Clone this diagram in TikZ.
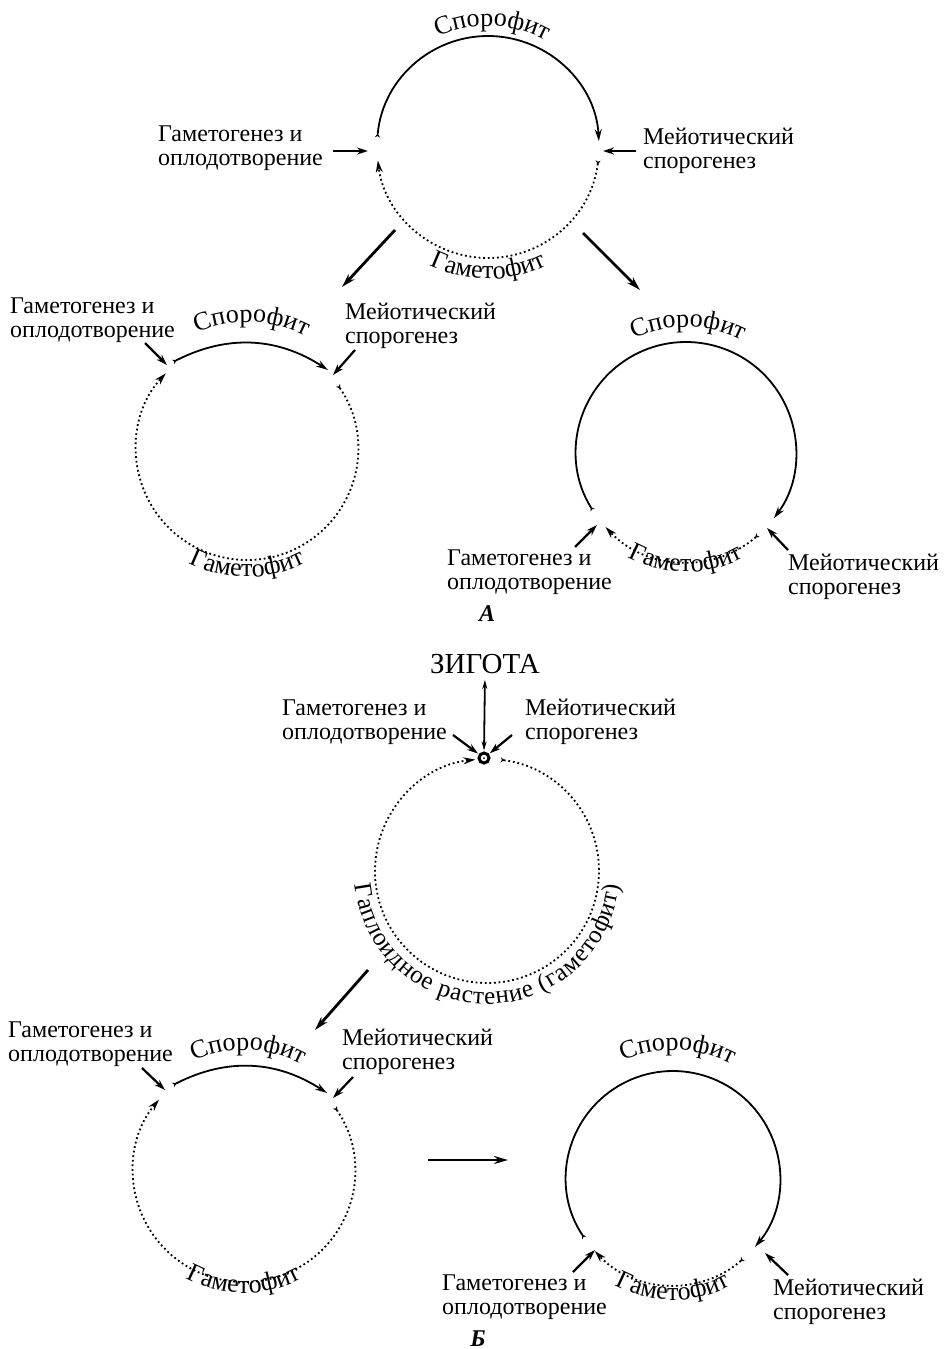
\documentclass[tikz,border=0pt]{standalone}
\usepackage{fontspec}
\setmainfont{Liberation Serif}
\usetikzlibrary{arrows.meta,decorations.text}

\tikzset{
  lbl/.style={align=left, anchor=west, inner sep=0pt, font=\fontsize{24}{24}\selectfont},
  solidarc/.style={line width=1.8pt, {Stealth[length=4pt,width=5pt,reversed]}-{Stealth[length=12pt,width=7pt]}},
  dotarc/.style={line width=1.8pt, dash pattern=on 1.8pt off 2.8pt, {Stealth[length=4pt,width=5pt,reversed]}-{Stealth[length=12pt,width=7pt]}},
  feed/.style={line width=2.2pt, -{Stealth[length=11pt,width=7pt]}},
  bigarrow/.style={line width=2.8pt, -{Stealth[length=14pt,width=8pt]}},
  curved/.style={decorate, decoration={text along path, text align=center, text={|\fontsize{26}{26}\selectfont|#1}}},
}

\begin{document}
\begin{tikzpicture}[x=10pt, y=10pt]
\useasboundingbox (0,0) rectangle (94.3,-134.9);

% A: top cycle
\coordinate (c1) at (48.8,-14.7);
\draw[solidarc] ([shift={(175:11.1)}]c1) arc[start angle=175, end angle=3, radius=11.1];
\draw[dotarc] ([shift={(-7:11.1)}]c1) arc[start angle=-7, end angle=-173, radius=11.1];
\path[curved=Спорофит] ([shift={(128:12.1)}]c1) arc[start angle=128, end angle=48, radius=12.1];
\path[curved=Гаметофит] ([shift={(225:13.2)}]c1) arc[start angle=225, end angle=315, radius=13.2];
\node[lbl] (gfA1) at (15.8,-14.8) {Гаметогенез и\\оплодотворение};
\node[lbl] (mtA1) at (64.3,-15.1) {Мейотический\\спорогенез};
\coordinate (gfA1s) at (33.3,-15.1);  \coordinate (gfA1e) at (36.8,-15.1);
\coordinate (mtA1s) at (63.6,-15.1);  \coordinate (mtA1e) at (60.3,-15.1);
\draw[feed] (gfA1s) -- (gfA1e);
\draw[feed] (mtA1s) -- (mtA1e);

% A: arrows to the two derived cycles
\coordinate (brA1) at (39.5,-23.0);  \coordinate (brA2) at (34.2,-28.7);
\coordinate (brA3) at (58.3,-23.3);  \coordinate (brA4) at (64.0,-29.0);
\draw[bigarrow] (brA1) -- (brA2);
\draw[bigarrow] (brA3) -- (brA4);

% A: left cycle
\coordinate (c2) at (24.7,-44.9);
\coordinate (spA2s) at (17.3,-36.2);  \coordinate (spA2e) at (32.8,-37.0);
\draw[solidarc] (spA2s) to[bend left=30] (spA2e);
\draw[dotarc] ([shift={(35:11.1)}]c2) arc[start angle=35, end angle=-223, radius=11.1];
\path[curved=Спорофит] ([shift={(128:12.7)}]c2) arc[start angle=128, end angle=48, radius=12.7];
\path[curved=Гаметофит] ([shift={(225:12.8)}]c2) arc[start angle=225, end angle=315, radius=12.8];
\node[lbl] (gfA2) at (1.0,-32.0) {Гаметогенез и\\оплодотворение};
\node[lbl] (mtA2) at (34.5,-32.6) {Мейотический\\спорогенез};
\coordinate (gfA2s) at (14.5,-34.3);  \coordinate (gfA2e) at (16.7,-36.5);
\coordinate (mtA2s) at (35.5,-35.0);  \coordinate (mtA2e) at (33.3,-37.5);
\draw[feed] (gfA2s) -- (gfA2e);
\draw[feed] (mtA2s) -- (mtA2e);

% A: right cycle
\coordinate (c3) at (68.6,-45.2);
\draw[solidarc] ([shift={(212:11.0)}]c3) arc[start angle=212, end angle=-37, radius=11.0];
\draw[dotarc] ([shift={(-49:11.0)}]c3) arc[start angle=-49, end angle=-137, radius=11.0];
\path[curved=Спорофит] ([shift={(129:12.5)}]c3) arc[start angle=129, end angle=49, radius=12.5];
\path[curved=Гаметофит] ([shift={(225:12.0)}]c3) arc[start angle=225, end angle=315, radius=12.0];
\node[lbl] (gfA3) at (44.7,-57.2) {Гаметогенез и\\оплодотворение};
\node[lbl] (mtA3) at (78.8,-57.7) {Мейотический\\спорогенез};
\coordinate (gfA3s) at (57.5,-54.7);  \coordinate (gfA3e) at (59.7,-52.5);
\coordinate (mtA3s) at (78.8,-55.0);  \coordinate (mtA3e) at (76.7,-52.8);
\draw[feed] (gfA3s) -- (gfA3e);
\draw[feed] (mtA3s) -- (mtA3e);
\node[font=\fontsize{24}{24}\selectfont\bfseries\itshape, inner sep=0pt, anchor=base] (partA) at (48.7,-62.1) {А};

% B: zygote and haploid cycle
\node[font=\fontsize{29}{29}\selectfont, inner sep=0pt] (zigota) at (48.5,-66.4) {ЗИГОТА};
\node[circle, draw, line width=3pt, inner sep=0pt, minimum size=10pt] (zyg) at (48.4,-75.8) {};
\fill (zyg.center) circle[radius=1pt];
\draw[line width=1.8pt, {Stealth[length=9pt,width=5pt]}-{Stealth[length=9pt,width=5pt]}, shorten <=6pt, shorten >=1pt] (zigota.south) -- (zyg.north);
\node[lbl] (gfB1) at (28.2,-72.2) {Гаметогенез и\\оплодотворение};
\node[lbl] (mtB1) at (52.5,-72.2) {Мейотический\\спорогенез};
\coordinate (gfB1s) at (45.3,-73.5);
\coordinate (mtB1s) at (51.2,-73.5);
\draw[feed, shorten >=1pt] (gfB1s) -- (zyg);
\draw[feed, shorten >=1pt] (mtB1s) -- (zyg);
\coordinate (c4) at (48.7,-87.1);
\draw[dotarc] ([shift={(83:11.2)}]c4) arc[start angle=83, end angle=-264, radius=11.2];
\path[decorate, decoration={text along path, text align=fit to path,
  text={|\fontsize{25}{25}\selectfont|Гаплоидное растение (гаметофит)}}]
  ([shift={(186:13.3)}]c4) arc[start angle=186, end angle=354, radius=13.3];
\coordinate (brB1) at (36.8,-97.0);  \coordinate (brB2) at (31.5,-103.0);
\draw[bigarrow] (brB1) -- (brB2);

% B: left cycle
\coordinate (c5) at (24.4,-117.1);
\coordinate (spB2s) at (17.3,-108.5);  \coordinate (spB2e) at (32.7,-109.3);
\draw[solidarc] (spB2s) to[bend left=30] (spB2e);
\draw[dotarc] ([shift={(35:11.1)}]c5) arc[start angle=35, end angle=-220, radius=11.1];
\path[curved=Спорофит] ([shift={(128:12.1)}]c5) arc[start angle=128, end angle=48, radius=12.1];
\path[curved=Гаметофит] ([shift={(225:12.2)}]c5) arc[start angle=225, end angle=315, radius=12.2];
\node[lbl] (gfB2) at (0.8,-104.4) {Гаметогенез и\\оплодотворение};
\node[lbl] (mtB2) at (34.2,-105.2) {Мейотический\\спорогенез};
\coordinate (gfB2s) at (14.2,-106.8);  \coordinate (gfB2e) at (16.5,-109.0);
\coordinate (mtB2s) at (35.3,-107.7);  \coordinate (mtB2e) at (33.3,-109.8);
\draw[feed] (gfB2s) -- (gfB2e);
\draw[feed] (mtB2s) -- (mtB2e);
\coordinate (brB3) at (42.8,-116.0);  \coordinate (brB4) at (50.8,-116.0);
\draw[bigarrow] (brB3) -- (brB4);

% B: right cycle
\coordinate (c6) at (67.3,-117.8);
\draw[solidarc] ([shift={(214:10.7)}]c6) arc[start angle=214, end angle=-40, radius=10.7];
\draw[dotarc] ([shift={(-49:10.7)}]c6) arc[start angle=-49, end angle=-137, radius=10.7];
\path[curved=Спорофит] ([shift={(128:12.8)}]c6) arc[start angle=128, end angle=48, radius=12.8];
\path[curved=Гаметофит] ([shift={(225:12.2)}]c6) arc[start angle=225, end angle=315, radius=12.2];
\node[lbl] (gfB3) at (44.2,-129.7) {Гаметогенез и\\оплодотворение};
\node[lbl] (mtB3) at (77.3,-130.2) {Мейотический\\спорогенез};
\coordinate (gfB3s) at (57.3,-127.2);  \coordinate (gfB3e) at (59.5,-125.0);
\coordinate (mtB3s) at (78.8,-127.5);  \coordinate (mtB3e) at (76.5,-125.3);
\draw[feed] (gfB3s) -- (gfB3e);
\draw[feed] (mtB3s) -- (mtB3e);
\node[font=\fontsize{24}{24}\selectfont\bfseries\itshape, inner sep=0pt, anchor=base] (partB) at (47.8,-134.6) {Б};

\end{tikzpicture}
\end{document}
